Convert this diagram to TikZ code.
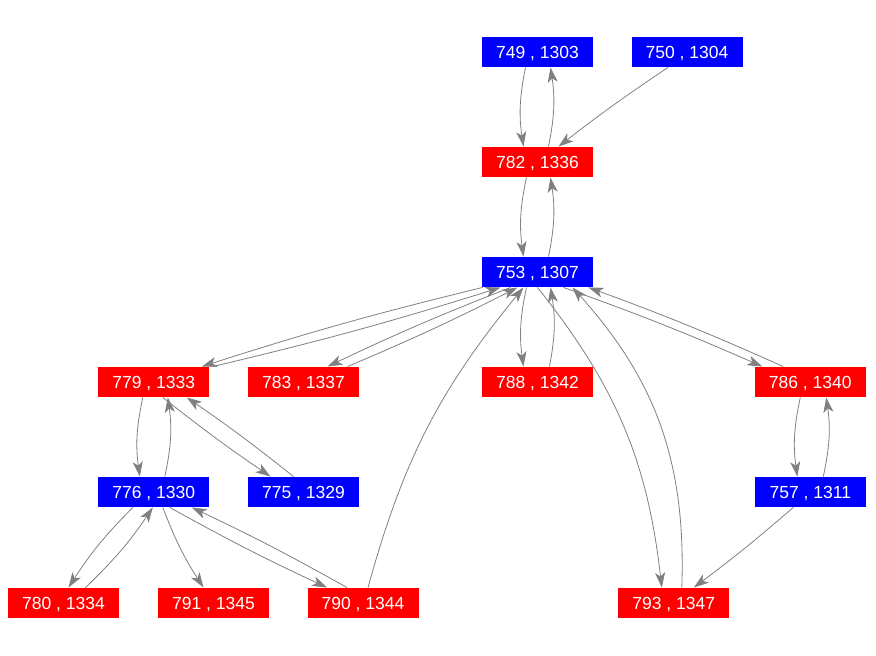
\documentclass[tikz,border=0pt]{standalone}
\usepackage{fontspec}
\setmainfont{Liberation Sans}
\usetikzlibrary{arrows.meta}
\definecolor{nblue}{RGB}{0,0,255}
\definecolor{nred}{RGB}{255,0,0}
\definecolor{egray}{RGB}{128,128,128}
\tikzset{
  nodebox/.style={rectangle, minimum width=111pt, minimum height=30.5pt, inner sep=0pt, text height=12.6pt, text depth=0pt, text=white, font=\fontsize{17.5}{20}\selectfont},
  bluebox/.style={nodebox, fill=nblue},
  redbox/.style={nodebox, fill=nred},
  edge/.style={draw=egray, line width=0.8pt, -{Stealth[length=15pt,width=10pt,inset=4pt]}}
}
\begin{document}
\begin{tikzpicture}[x=1pt,y=-1pt]
\useasboundingbox (0,0) rectangle (876,656);
\node[bluebox] (n749) at (537.5,52) {749 , 1303};
\node[bluebox] (n750) at (687,52) {750 , 1304};
\node[redbox]  (n782) at (537.5,162) {782 , 1336};
\node[bluebox] (n753) at (537.5,272) {753 , 1307};
\node[redbox]  (n779) at (153.8,382) {779 , 1333};
\node[redbox]  (n783) at (303.5,382) {783 , 1337};
\node[redbox]  (n788) at (537.5,382) {788 , 1342};
\node[redbox]  (n786) at (810.3,382) {786 , 1340};
\node[bluebox] (n776) at (153.8,492) {776 , 1330};
\node[bluebox] (n775) at (303.5,492) {775 , 1329};
\node[bluebox] (n757) at (810.3,492) {757 , 1311};
\node[redbox]  (n780) at (63.5,603) {780 , 1334};
\node[redbox]  (n791) at (213.5,603) {791 , 1345};
\node[redbox]  (n790) at (363,603) {790 , 1344};
\node[redbox]  (n793) at (673.8,603) {793 , 1347};

% top
\draw[edge] ([xshift=-12pt]n749.south) to[bend right=10] ([xshift=-14pt]n782.north);
\draw[edge] ([xshift=11pt]n782.north) to[bend right=10] ([xshift=13pt]n749.south);
\draw[edge] ([xshift=-19pt]n750.south) to[bend right=2] ([xshift=21pt]n782.north);
\draw[edge] ([xshift=-11pt]n782.south) to[bend right=10] ([xshift=-14pt]n753.north);
\draw[edge] ([xshift=11pt]n753.north) to[bend right=10] ([xshift=13pt]n782.south);
% 753 <-> 788
\draw[edge] ([xshift=-11pt]n753.south) to[bend right=10] ([xshift=-14pt]n788.north);
\draw[edge] ([xshift=12pt]n788.north) to[bend right=10] ([xshift=13pt]n753.south);
% 753 <-> 793
\draw[edge] ([xshift=0pt]n753.south) to[bend left=16] ([xshift=-12pt]n793.north);
\draw[edge] ([xshift=8pt]n793.north) to[bend right=22] ([xshift=35pt]n753.south);
% 753 <-> 786
\draw[edge] ([xshift=26pt]n753.south) to[bend left=2] ([xshift=-48pt]n786.north);
\draw[edge] ([xshift=-27pt]n786.north) to[bend right=2] ([xshift=51pt]n753.south);
% 786 <-> 757
\draw[edge] ([xshift=-10pt]n786.south) to[bend right=10] ([xshift=-13pt]n757.north);
\draw[edge] ([xshift=13pt]n757.north) to[bend right=10] ([xshift=16pt]n786.south);
\draw[edge] ([xshift=-17pt]n757.south) to[bend left=2] ([xshift=20pt]n793.north);
% 790 -> 753
\draw[edge] ([xshift=5pt]n790.north) to[bend left=12] ([xshift=-14pt]n753.south);
% 753 <-> 779
\draw[edge] ([xshift=-55pt]n753.south) to[bend right=2] ([xshift=48pt]n779.north);
\draw[edge] ([xshift=59pt]n779.north) to[bend right=2] ([xshift=-37pt]n753.south);
% 753 <-> 783
\draw[edge] ([xshift=-27pt]n753.south) to[bend right=2] ([xshift=24pt]n783.north);
\draw[edge] ([xshift=44pt]n783.north) to[bend right=2] ([xshift=-20pt]n753.south);
% 779 <-> 776
\draw[edge] ([xshift=-11pt]n779.south) to[bend right=10] ([xshift=-14pt]n776.north);
\draw[edge] ([xshift=11pt]n776.north) to[bend right=10] ([xshift=14pt]n779.south);
% 779 <-> 775
\draw[edge] ([xshift=9pt]n779.south) to[bend right=2] ([xshift=-33pt]n775.north);
\draw[edge] ([xshift=-10pt]n775.north) to[bend right=2] ([xshift=33pt]n779.south);
% 776 <-> 780
\draw[edge] ([xshift=-21pt]n776.south) to[bend right=6] ([xshift=5pt]n780.north);
\draw[edge] ([xshift=22pt]n780.north) to[bend right=6] ([xshift=-1pt]n776.south);
% 776 -> 791
\draw[edge] ([xshift=9pt]n776.south) to[bend right=6] ([xshift=-10pt]n791.north);
% 776 <-> 790
\draw[edge] ([xshift=16pt]n776.south) to[bend right=2] ([xshift=-36pt]n790.north);
\draw[edge] ([xshift=-16pt]n790.north) to[bend right=2] ([xshift=38pt]n776.south);
\end{tikzpicture}
\end{document}
